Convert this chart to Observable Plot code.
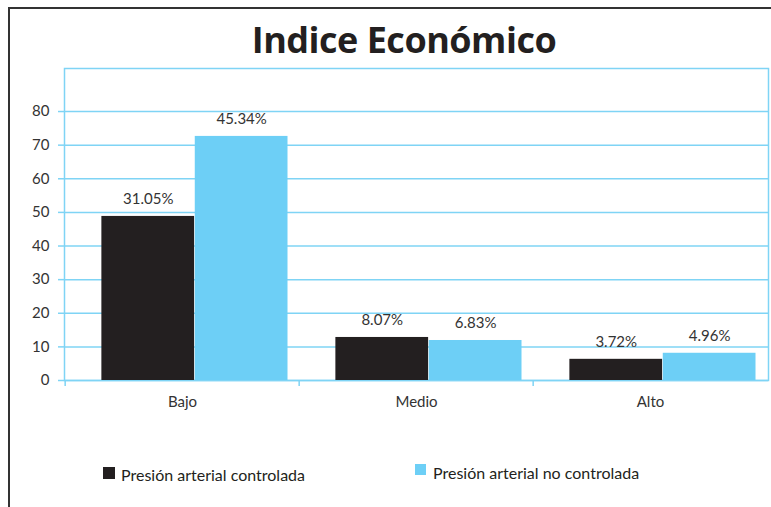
<!DOCTYPE html>
<html>
<head>
<meta charset="utf-8">
<script src="https://cdn.jsdelivr.net/npm/d3@7"></script>
<script src="https://cdn.jsdelivr.net/npm/@observablehq/plot@0.6"></script>
<style>
  html, body { margin: 0; padding: 0; background: #fff; }
  #wrap { position: relative; width: 771px; height: 507px; overflow: hidden; font-family: Lato, "Open Sans", sans-serif; }
  #border { position: absolute; left: 8px; top: 7px; width: 800px; height: 600px; border-left: 2px solid #333; border-top: 2px solid #333; box-sizing: border-box; }
  #title { position: absolute; left: 0; width: 808px; top: 15px; text-align: center; font-family: "Open Sans", sans-serif; font-size: 36px; font-weight: bold; color: #231f20; letter-spacing: -0.5px; }
  #chart { position: absolute; left: 0; top: 58px; }
  .leg { position: absolute; font-size: 16px; color: #231f20; white-space: nowrap; }
  .sw { position: absolute; }
</style>
</head>
<body>
<div id="wrap">
  <div id="border"></div>
  <div id="title">Indice Económico</div>
  <div id="chart"></div>
  <div class="sw" style="left:103px;top:467px;width:12px;height:12px;background:#231f20"></div>
  <div class="leg" style="left:121px;top:465px">Presión arterial controlada</div>
  <div class="sw" style="left:415px;top:464px;width:11px;height:11px;background:#6dcff6"></div>
  <div class="leg" style="left:433px;top:463px">Presión arterial no controlada</div>
</div>
<script>
const categories = ["Bajo", "Medio", "Alto"];
const controlada = [48.8, 12.8, 6.3];
const noControlada = [72.6, 11.9, 8.1];
const labelsControlada = ["31.05%", "8.07%", "3.72%"];
const labelsNoControlada = ["45.34%", "6.83%", "4.96%"];
const yTicks = [0, 10, 20, 30, 40, 50, 60, 70, 80];
const yMax = 92.8;

const rowsA = categories.map((c, i) => ({cat: c, v: controlada[i], label: labelsControlada[i]}));
const rowsB = categories.map((c, i) => ({cat: c, v: noControlada[i], label: labelsNoControlada[i]}));

const W = 771, ML = 64, MR = 3;
const bw = (W - ML - MR) / categories.length;
const barW = bw * 0.398;
const padL = bw * 0.155;
const padR = bw - padL - 2 * barW;
const blue = "#6dcff6";
const grid = "#7fd4f5";

const chart = Plot.plot({
  width: W,
  height: 370,
  marginLeft: ML,
  marginRight: MR,
  marginTop: 10,
  marginBottom: 48,
  style: {fontFamily: "Lato, 'Open Sans', sans-serif", fontSize: "15px", color: "#333", background: "transparent"},
  x: {domain: categories, padding: 0, label: null},
  y: {domain: [0, yMax], label: null},
  marks: [
    Plot.gridY(yTicks, {stroke: grid, strokeOpacity: 1, strokeWidth: 1.5}),
    Plot.frame({stroke: grid, strokeWidth: 1.5}),
    Plot.barY(rowsA, {x: "cat", y: "v", fill: "#231f20", insetLeft: padL, insetRight: padR + barW}),
    Plot.barY(rowsB, {x: "cat", y: "v", fill: blue, insetLeft: padL + barW, insetRight: padR}),
    Plot.text(rowsA, {x: "cat", y: "v", text: "label", dx: padL + barW / 2 - bw / 2, dy: -17, fill: "#333", fontSize: 15}),
    Plot.text(rowsB, {x: "cat", y: "v", text: "label", dx: padL + 1.5 * barW - bw / 2, dy: -17, fill: "#333", fontSize: 15}),
    Plot.ruleX(categories, {x: d => d, dx: -bw / 2, y1: 0, y2: -1.8, stroke: grid, strokeWidth: 1.5}),
    Plot.axisY(yTicks, {tickSize: 6, tickPadding: 9, stroke: grid, strokeWidth: 1.5, fill: "#333", fontSize: 15}),
    Plot.axisX({tickSize: 0, tickPadding: 16, fill: "#333", fontSize: 15})
  ]
});
document.getElementById("chart").appendChild(chart);
</script>
</body>
</html>
